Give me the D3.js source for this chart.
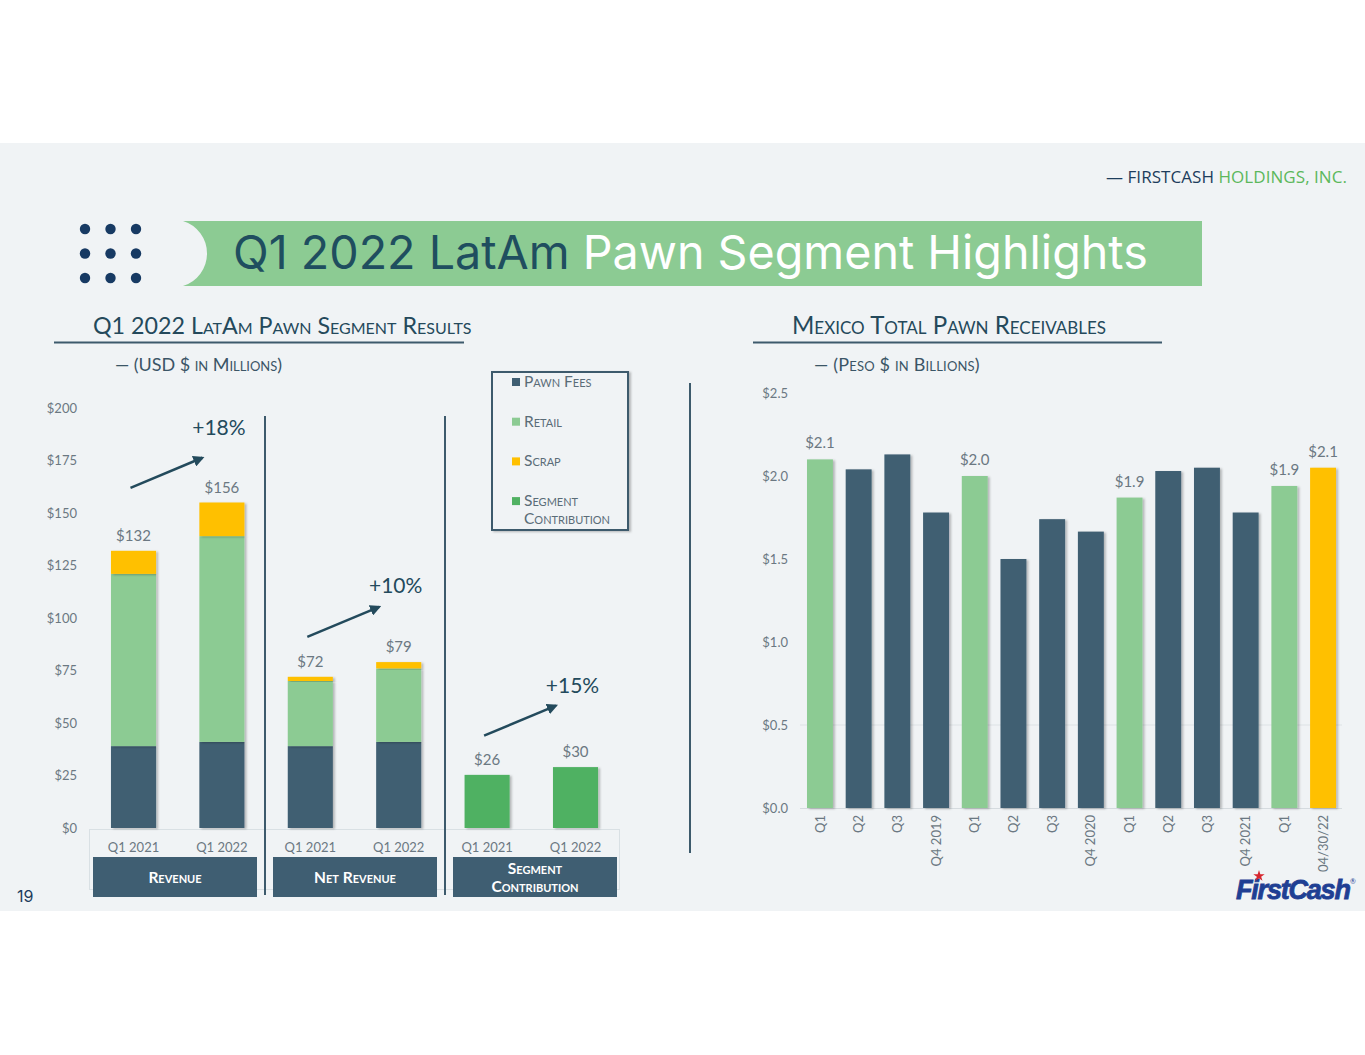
<!DOCTYPE html>
<html>
<head>
<meta charset="utf-8">
<script src="https://cdn.jsdelivr.net/npm/d3@7"></script>
<style>
  html, body { margin: 0; padding: 0; background: #fff; }
  svg { display: block; }
  text { font-family: Lato, "Open Sans", sans-serif; }
</style>
</head>
<body>
<svg id="slide" width="1365" height="1055"></svg>
<script>
// ---- LatAm pawn segment results (USD $ in millions) ----
var groups = ['Revenue', 'Net Revenue', 'Segment Contribution'];
var periods = ['Q1 2021', 'Q1 2022'];
var revenuePawnFees = [39, 41];
var revenueRetail = [82, 98];
var revenueScrap = [11, 16];
var netPawnFees = [39, 41];
var netRetail = [31, 35];
var netScrap = [2, 3];
var segmentContribution = [25.3, 29];
var totalLabels = [['$132', '$156'], ['$72', '$79'], ['$26', '$30']];
var growthLabels = ['+18%', '+10%', '+15%'];
var growthArrowFrom = [162, 91, 44];   // value where each growth arrow starts
var growthLabelAt = [187, 112, 64.5];  // value at the growth label baseline
var leftTicks = [0, 25, 50, 75, 100, 125, 150, 175, 200];

// ---- Mexico total pawn receivables (peso $ in billions) ----
var quarterLabels = ['Q1', 'Q2', 'Q3', 'Q4 2019', 'Q1', 'Q2', 'Q3', 'Q4 2020',
                     'Q1', 'Q2', 'Q3', 'Q4 2021', 'Q1', '04/30/22'];
var receivables = [2.10, 2.04, 2.13, 1.78, 2.00, 1.50, 1.74, 1.665,
                   1.87, 2.03, 2.05, 1.78, 1.94, 2.05];
var receivableLabels = ['$2.1', '', '', '', '$2.0', '', '', '',
                        '$1.9', '', '', '', '$1.9', '$2.1'];
var rightTicks = [0, 0.5, 1, 1.5, 2, 2.5];

var colors = {
  pawn: '#3f5e72',
  retail: '#8ccb93',
  scrap: '#ffc000',
  contribution: '#50b162',
  dark: '#234a5c',
  label: '#6b7882'
};

var legendItems = [
  { key: 'pawn', lines: ['Pawn Fees'] },
  { key: 'retail', lines: ['Retail'] },
  { key: 'scrap', lines: ['Scrap'] },
  { key: 'contribution', lines: ['Segment', 'Contribution'] }
];

var svg = d3.select('#slide');

// drop shadow used on bars and legend
var defs = svg.append('defs');
defs.append('filter').attr('id', 'shadow')
    .attr('x', '-20%').attr('y', '-5%').attr('width', '150%').attr('height', '115%')
  .append('feDropShadow')
    .attr('dx', 2).attr('dy', 1).attr('stdDeviation', 1.3)
    .attr('flood-color', '#000').attr('flood-opacity', 0.25);
defs.append('marker').attr('id', 'arrowhead')
    .attr('viewBox', '0 0 10 10').attr('refX', 8).attr('refY', 5)
    .attr('markerWidth', 4.5).attr('markerHeight', 4.5).attr('orient', 'auto')
  .append('path').attr('d', 'M0,0 L10,5 L0,10 Z').attr('fill', colors.dark);

// slide background
svg.append('rect').attr('x', 0).attr('y', 143).attr('width', 1365).attr('height', 768)
   .attr('fill', '#f0f3f5');

// stretch a text's letter spacing so it spans a given width
function fitWidth(sel, width) {
  var t = sel.node();
  var len = t.getComputedTextLength();
  var n = t.textContent.length;
  sel.style('letter-spacing', ((width - len) / n) + 'px');
}
// scale a text's font size so it spans a given width
function fitSize(sel, size, width) {
  var len = sel.node().getComputedTextLength();
  sel.style('font-size', (size * width / len) + 'px');
}

// header
var header = svg.append('text').attr('x', 1347).attr('y', 183)
    .attr('text-anchor', 'end').style('font-family', '"Open Sans", sans-serif')
    .style('font-size', '17px');
header.append('tspan').attr('fill', '#1d3d5c').text('— FIRSTCASH ');
header.append('tspan').attr('fill', '#5cb85c').text('HOLDINGS, INC.');
fitWidth(header, 241);

// dots
var dotIdx = d3.range(9);
svg.append('g').selectAll('circle').data(dotIdx).enter().append('circle')
   .attr('cx', function(d) { return 85 + (d % 3) * 25.5; })
   .attr('cy', function(d) { return 229 + Math.floor(d / 3) * 24.5; })
   .attr('r', 5.2).attr('fill', '#173a63');

// title banner
svg.append('path')
   .attr('d', 'M183,221 A34,34 0 0 1 183,286 L1202,286 L1202,221 Z')
   .attr('fill', '#8ccb93');
var title = svg.append('text').attr('x', 233).attr('y', 269)
    .style('font-family', 'Inter, "Noto Sans", sans-serif').style('font-size', '46px');
title.append('tspan').attr('fill', '#1f4e5f').text('Q1 2022 LatAm ');
title.append('tspan').attr('fill', '#ffffff').text('Pawn Segment Highlights');
fitSize(title, 46, 915);

// section headings
function sectionHeading(x, lineX0, lineX1, main, mainWidth, sub, subWidth) {
  var h = svg.append('text').attr('x', x).attr('y', 334)
     .attr('fill', '#24495b').style('font-variant', 'small-caps')
     .style('font-size', '21px').text(main);
  fitSize(h, 21, mainWidth);
  svg.append('line').attr('x1', lineX0).attr('x2', lineX1).attr('y1', 342.5).attr('y2', 342.5)
     .attr('stroke', '#3d5a6c').attr('stroke-width', 2);
  var s = svg.append('text').attr('x', x + 22).attr('y', 371)
     .attr('fill', '#3b5566').style('font-variant', 'small-caps')
     .style('font-size', '18px').text('—  ' + sub);
  fitWidth(s, subWidth);
}
sectionHeading(93, 54, 464, 'Q1 2022 LatAm Pawn Segment Results', 386, '(USD $ in Millions)', 167);
sectionHeading(792, 753, 1162, 'Mexico Total Pawn Receivables', 317, '(Peso $ in Billions)', 166);

// ================= LEFT CHART =================
var rows = [];
var series = [
  [revenuePawnFees, revenueRetail, revenueScrap, null],
  [netPawnFees, netRetail, netScrap, null],
  [null, null, null, segmentContribution]
];
groups.forEach(function(g, gi) {
  periods.forEach(function(p, pi) {
    var s = series[gi];
    rows.push({
      key: g + '|' + p, group: g, gi: gi, period: p, pi: pi,
      pawn: s[0] ? s[0][pi] : 0,
      retail: s[1] ? s[1][pi] : 0,
      scrap: s[2] ? s[2][pi] : 0,
      contribution: s[3] ? s[3][pi] : 0,
      label: totalLabels[gi][pi]
    });
  });
});

var xL = d3.scaleBand().domain(rows.map(function(d) { return d.key; }))
    .range([89.3, 619.7]).paddingInner(0.49).paddingOuter(0.245);
var yL = d3.scaleLinear().domain([0, 200]).range([828, 408]);
var groupBand = d3.scaleBand().domain(groups).range([93, 617]).paddingInner(16 / 180).paddingOuter(0);

// y axis
var yAxisL = svg.append('g').attr('transform', 'translate(80,0)')
    .call(d3.axisLeft(yL).tickValues(leftTicks).tickSize(0).tickPadding(3)
      .tickFormat(function(d) { return '$' + d; }));
yAxisL.select('.domain').remove();
yAxisL.selectAll('text').attr('fill', colors.label).style('font-size', '13px')
    .style('font-family', 'Lato, sans-serif');

// axis frame
svg.append('rect').attr('x', 89.5).attr('y', 829.5).attr('width', 530).attr('height', 60)
   .attr('fill', 'none').attr('stroke', '#d9e0e4');

var stackKeys = ['pawn', 'retail', 'scrap', 'contribution'];
var stacked = d3.stack().keys(stackKeys)(rows);

svg.append('g').selectAll('g').data(stacked).enter().append('g')
   .attr('fill', function(s) { return colors[s.key]; })
   .selectAll('rect').data(function(s) { return s; }).enter()
   .filter(function(d) { return d[1] > d[0]; })
   .append('rect')
   .attr('x', function(d) { return xL(d.data.key); })
   .attr('width', xL.bandwidth())
   .attr('y', function(d) { return yL(d[1]); })
   .attr('height', function(d) { return yL(d[0]) - yL(d[1]); })
   .attr('filter', 'url(#shadow)');

// total labels
svg.append('g').selectAll('text').data(rows).enter().append('text')
   .attr('x', function(d) { return xL(d.key) + xL.bandwidth() / 2; })
   .attr('y', function(d) { return yL(d.pawn + d.retail + d.scrap + d.contribution) - 10; })
   .attr('text-anchor', 'middle').attr('fill', colors.label).style('font-size', '15px')
   .text(function(d) { return d.label; });

// period tick labels
svg.append('g').selectAll('text').data(rows).enter().append('text')
   .attr('x', function(d) { return xL(d.key) + xL.bandwidth() / 2; })
   .attr('y', 852).attr('text-anchor', 'middle').attr('fill', colors.label)
   .style('font-size', '13px').text(function(d) { return d.period; });

// growth arrows
groups.forEach(function(g, gi) {
  var k0 = g + '|' + periods[0], k1 = g + '|' + periods[1];
  var x0 = xL(k0) + xL.bandwidth() / 2 - 3;
  var x1 = xL(k1) + 3;
  var v0 = growthArrowFrom[gi], v1 = v0 + 14.3;
  svg.append('line').attr('x1', x0).attr('y1', yL(v0)).attr('x2', x1).attr('y2', yL(v1))
     .attr('stroke', colors.dark).attr('stroke-width', 2.5).attr('marker-end', 'url(#arrowhead)');
  svg.append('text').attr('x', xL(k1) + xL.bandwidth() / 2 - 3).attr('y', yL(growthLabelAt[gi]))
     .attr('text-anchor', 'middle').attr('fill', colors.dark).style('font-size', '21px')
     .text(growthLabels[gi]);
});

// category boxes
var catBox = svg.append('g').selectAll('g').data(groups).enter().append('g');
catBox.append('rect')
   .attr('x', function(d) { return groupBand(d); }).attr('y', 857)
   .attr('width', groupBand.bandwidth()).attr('height', 40)
   .attr('fill', colors.pawn);
catBox.each(function(d) {
  var words = d === 'Segment Contribution' ? ['Segment', 'Contribution'] : [d];
  var t = d3.select(this).append('text')
     .attr('text-anchor', 'middle').attr('fill', '#fff')
     .style('font-weight', 'bold').style('font-variant', 'small-caps').style('font-size', '15.5px');
  var cx = groupBand(d) + groupBand.bandwidth() / 2;
  words.forEach(function(w, i) {
    t.append('tspan').attr('x', cx)
     .attr('y', words.length === 1 ? 883 : 874 + i * 18).text(w);
  });
});

// separators
groups.slice(1).forEach(function(g) {
  var sx = groupBand(g) - groupBand.step() * groupBand.paddingInner() / 2;
  svg.append('line').attr('x1', sx).attr('x2', sx).attr('y1', 416).attr('y2', 895)
     .attr('stroke', '#3d5a6c').attr('stroke-width', 2);
});

// legend
var legend = svg.append('g').attr('transform', 'translate(492,372)');
legend.append('rect').attr('width', 136).attr('height', 158)
   .attr('fill', '#f0f3f5').attr('stroke', '#3d5a6c').attr('stroke-width', 2)
   .attr('filter', 'url(#shadow)');
var li = legend.selectAll('g.item').data(legendItems).enter().append('g')
   .attr('class', 'item')
   .attr('transform', function(d, i) { return 'translate(20,' + (10 + i * 39.7) + ')'; });
li.append('rect').attr('x', 0).attr('y', -4).attr('width', 8).attr('height', 8)
   .attr('fill', function(d) { return colors[d.key]; });
li.each(function(d) {
  var t = d3.select(this).append('text').attr('fill', '#5a6c78')
     .style('font-variant', 'small-caps').style('font-size', '15.5px');
  d.lines.forEach(function(line, i) {
    t.append('tspan').attr('x', 12).attr('y', 5 + i * 18).text(line);
  });
});

// vertical divider between the charts
svg.append('line').attr('x1', 690).attr('x2', 690).attr('y1', 383).attr('y2', 853)
   .attr('stroke', '#3d5a6c').attr('stroke-width', 2);

// ================= RIGHT CHART =================
var xR = d3.scaleBand().domain(d3.range(receivables.length))
    .range([800.6, 1342.4]).paddingInner(0.33).paddingOuter(0.165);
var yR = d3.scaleLinear().domain([0, 2.5]).range([808, 393]);

var yAxisR = svg.append('g').attr('transform', 'translate(791,0)')
    .call(d3.axisLeft(yR).tickValues(rightTicks).tickSize(0).tickPadding(3)
      .tickFormat(function(d) { return '$' + d3.format('.1f')(d); }));
yAxisR.select('.domain').remove();
yAxisR.selectAll('text').attr('fill', colors.label).style('font-size', '13px')
    .style('font-family', 'Lato, sans-serif');

// faint grid line and baseline
svg.append('line').attr('x1', 800).attr('x2', 1342).attr('y1', yR(0.5)).attr('y2', yR(0.5))
   .attr('stroke', '#dde2e5');
svg.append('line').attr('x1', 800).attr('x2', 1342).attr('y1', yR(0) + 0.5).attr('y2', yR(0) + 0.5)
   .attr('stroke', '#d5dbdf');

function barColor(i) {
  var lab = quarterLabels[i];
  if (lab.indexOf('/') >= 0) return colors.scrap;
  if (lab === 'Q1') return colors.retail;
  return colors.pawn;
}

svg.append('g').selectAll('rect').data(receivables).enter().append('rect')
   .attr('x', function(d, i) { return xR(i); })
   .attr('width', xR.bandwidth())
   .attr('y', function(d) { return yR(d); })
   .attr('height', function(d) { return yR(0) - yR(d); })
   .attr('fill', function(d, i) { return barColor(i); })
   .attr('filter', 'url(#shadow)');

svg.append('g').selectAll('text').data(receivables).enter().append('text')
   .attr('x', function(d, i) { return xR(i) + xR.bandwidth() / 2; })
   .attr('y', function(d) { return yR(d) - 11; })
   .attr('text-anchor', 'middle').attr('fill', colors.label).style('font-size', '15px')
   .text(function(d, i) { return receivableLabels[i]; });

var xAxisR = svg.append('g').attr('transform', 'translate(0,' + yR(0) + ')')
    .call(d3.axisBottom(xR).tickSize(0).tickFormat(function(i) { return quarterLabels[i]; }));
xAxisR.select('.domain').remove();
xAxisR.selectAll('text')
    .attr('transform', 'rotate(-90)').attr('x', -7).attr('y', 0).attr('dy', '0.35em')
    .style('text-anchor', 'end').attr('fill', colors.label).style('font-size', '13px')
    .style('font-family', 'Lato, sans-serif');

// page number
svg.append('text').attr('x', 17).attr('y', 902).attr('fill', '#1d3d5c')
   .style('font-family', 'Inter, sans-serif').style('font-size', '16px').text('19');

// logo
var logo = svg.append('g').attr('transform', 'translate(1236,899)');
logo.append('text').attr('x', 0).attr('y', 0).attr('fill', '#1f3f93')
   .attr('stroke', '#1f3f93').attr('stroke-width', 0.8)
   .style('font-family', '"Liberation Sans", Arial, sans-serif')
   .style('font-weight', 'bold').style('font-style', 'italic')
   .style('font-size', '27px').style('letter-spacing', '-1.2px').text('FirstCash');
logo.append('text').attr('x', 114).attr('y', -15).attr('fill', '#1f3f93')
   .style('font-size', '7px').text('®');
logo.append('path')
   .attr('d', d3.symbol().type(d3.symbolStar).size(40)())
   .attr('transform', 'translate(23,-23)').attr('fill', '#d7262e');
</script>
</body>
</html>
